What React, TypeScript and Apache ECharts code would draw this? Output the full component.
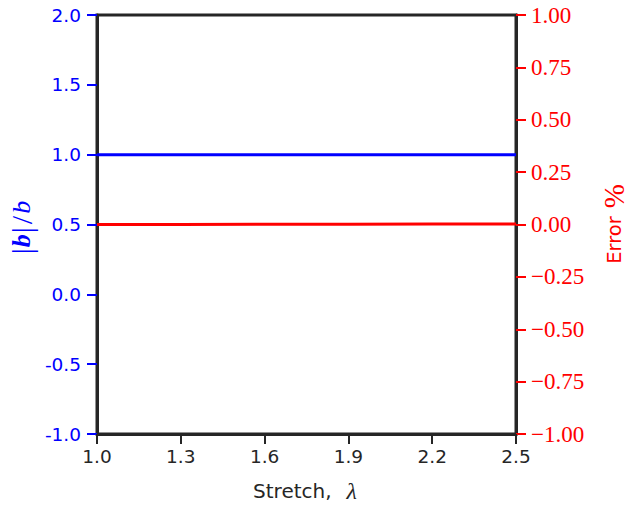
import React, { useEffect, useRef } from "react";
import * as echarts from "echarts";

const stretchValues = [1.0, 1.3, 1.6, 1.9, 2.2, 2.5];
const ratioValues = [1.0, 1.0, 1.0, 1.0, 1.0, 1.0];
const errorValues = [0.0, 0.0, 0.001, 0.001, 0.002, 0.002];
const xTicks = [1.0, 1.3, 1.6, 1.9, 2.2, 2.5];

const DARK = "#262626";
const BLUE = "#0000ff";
const RED = "#ff0000";

export default function App() {
  const ref = useRef<HTMLDivElement>(null);

  useEffect(() => {
    if (!ref.current) return;
    const chart = echarts.init(ref.current, null, { renderer: "svg" });
    const ratioData = stretchValues.map((x, i) => [x, ratioValues[i]]);
    const errorData = stretchValues.map((x, i) => [x, errorValues[i]]);
    const serif = "Liberation Serif";
    const sans = "DejaVu Sans";
    chart.setOption({
      animation: false,
      backgroundColor: "#ffffff",
      grid: {
        left: 97,
        right: 119,
        top: 15,
        bottom: 78,
        show: true,
        borderColor: DARK,
        borderWidth: 3,
        backgroundColor: "transparent",
      },
      xAxis: {
        type: "value",
        min: 1.0,
        max: 2.5,
        axisLine: { show: true, onZero: false, lineStyle: { color: DARK, width: 3 } },
        axisTick: {
          show: true,
          customValues: xTicks,
          length: 10,
          lineStyle: { color: DARK, width: 2 },
        },
        axisLabel: {
          customValues: xTicks,
          formatter: (v: number) => v.toFixed(1),
          margin: 13,
          fontSize: 18.5,
          fontFamily: sans,
          color: DARK,
        },
        splitLine: { show: false },
      },
      yAxis: [
        {
          type: "value",
          position: "left",
          min: -1,
          max: 2,
          interval: 0.5,
          axisLine: { show: true, onZero: false, lineStyle: { color: DARK, width: 3 } },
          axisTick: { show: true, length: 10, lineStyle: { color: BLUE, width: 2 } },
          axisLabel: {
            formatter: (v: number) => v.toFixed(1),
            margin: 16,
            fontSize: 18.5,
            fontFamily: sans,
            color: BLUE,
          },
          splitLine: { show: false },
        },
        {
          type: "value",
          position: "right",
          min: -1,
          max: 1,
          interval: 0.25,
          axisLine: { show: true, onZero: false, lineStyle: { color: DARK, width: 3 } },
          axisTick: { show: true, length: 10, lineStyle: { color: RED, width: 2 } },
          axisLabel: {
            formatter: (v: number) => (v < 0 ? "\u2212" : "") + Math.abs(v).toFixed(2),
            margin: 15,
            fontSize: 23,
            fontFamily: serif,
            color: RED,
          },
          splitLine: { show: false },
        },
      ],
      series: [
        {
          type: "line",
          yAxisIndex: 0,
          data: ratioData,
          showSymbol: false,
          lineStyle: { color: BLUE, width: 3 },
          itemStyle: { color: BLUE },
        },
        {
          type: "line",
          yAxisIndex: 1,
          data: errorData,
          showSymbol: false,
          lineStyle: { color: RED, width: 3 },
          itemStyle: { color: RED },
        },
      ],
      graphic: [
        {
          type: "text",
          x: 21,
          y: 228,
          rotation: Math.PI / 2,
          style: {
            text: "{n||}{bb|b}{n||}{s|/}{ib|b}",
            align: "center",
            verticalAlign: "middle",
            rich: {
              n: { fontFamily: serif, fontSize: 30, fill: BLUE, padding: [0, 1, 0, 1] },
              s: { fontFamily: serif, fontSize: 30, fill: BLUE, padding: [0, 2, 0, 2] },
              bb: { fontFamily: serif, fontSize: 26, fontWeight: "bold", fontStyle: "italic", fill: BLUE },
              ib: { fontFamily: serif, fontSize: 26, fontStyle: "italic", fill: BLUE },
            },
          },
        },
        {
          type: "text",
          x: 614,
          y: 224,
          rotation: Math.PI / 2,
          style: {
            text: "{s|Error}{m|%}",
            align: "center",
            verticalAlign: "middle",
            rich: {
              s: { fontFamily: sans, fontSize: 19.5, fill: RED },
              m: { fontFamily: serif, fontSize: 29, fill: RED, padding: [0, 0, 0, 8] },
            },
          },
        },
        {
          type: "text",
          x: 305,
          y: 491,
          style: {
            text: "{s|Stretch,}{m|λ}",
            align: "center",
            verticalAlign: "middle",
            rich: {
              s: { fontFamily: sans, fontSize: 20, fill: DARK },
              m: { fontFamily: serif, fontSize: 24, fontStyle: "italic", fill: DARK, padding: [0, 0, 0, 15] },
            },
          },
        },
      ],
    });
    return () => chart.dispose();
  }, []);

  return (
    <div
      ref={ref}
      style={{ position: "fixed", left: 0, top: 0, width: 635, height: 512 }}
    />
  );
}
